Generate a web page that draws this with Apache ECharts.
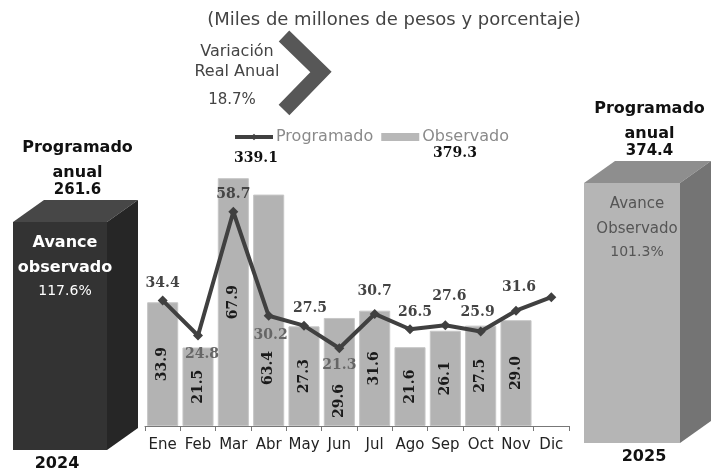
<!DOCTYPE html>
<html>
<head>
<meta charset="utf-8">
<script src="https://cdn.jsdelivr.net/npm/echarts@6/dist/echarts.min.js"></script>
<style>
html,body{margin:0;padding:0;background:#fff;}
#chart{width:722px;height:476px;}
</style>
</head>
<body>
<div id="chart"></div>
<script>
// ---- data ----
const months = ['Ene','Feb','Mar','Abr','May','Jun','Jul','Ago','Sep','Oct','Nov','Dic'];
const programado = [34.4, 24.8, 58.7, 30.2, 27.5, 21.3, 30.7, 26.5, 27.6, 25.9, 31.6, 35.3];
const observado = [33.9, 21.5, 67.9, 63.4, 27.3, 29.6, 31.6, 21.6, 26.1, 27.5, 29.0, null];
const boxYears = ['2024', '2025'];
const boxAnnual = [261.6, 374.4];
const boxAdvance = ['117.6%', '101.3%'];
const boxInnerLines = [['Avance', 'observado'], ['Avance', 'Observado']];
const totals = ['339.1', '379.3'];
const variacionLines = ['Variación', 'Real Anual'];
const variacionValue = '18.7%';
const titleText = '(Miles de millones de pesos y porcentaje)';
const seriesNames = ['Programado', 'Observado'];

// ---- styles ----
const SANS = 'DejaVu Sans';
const SERIF = 'DejaVu Serif';
// per-point label placement for the line [position, dx, dy, color]
const lineLabelPlace = [
  ['top', 0, 0, '#444'], ['bottom', 4, 2, '#666'], ['top', 0, 0, '#444'], ['bottom', 2, 3, '#666'],
  ['top', 6, 0, '#444'], ['bottom', 0, 0, '#666'], ['top', 0, -6, '#444'], ['top', 5, 0, '#444'],
  ['top', 4, -12, '#444'], ['top', -3, -2, '#444'], ['top', 3, -6, '#444'], null
];
const barLabelOverride = {3: 41, 5: 8}; // index -> distance from bottom
const boxStyles = [
  {front: '#333333', top: '#474747', side: '#262626', inner: '#ffffff', innerBold: true, innerSize: 16, yearDx: -3},
  {front: '#b5b5b5', top: '#8e8e8e', side: '#747474', inner: '#555555', innerBold: false, innerSize: 15, yearDx: 12}
];
const DX = 31, DY = 22;

const lineData = programado.map((v, i) => {
  const p = lineLabelPlace[i];
  if (!p) return {value: v, label: {show: false}};
  return {value: v, label: {show: true, position: p[0], offset: [p[1], p[2]], color: p[3]}};
});
const barData = observado.map((v, i) => {
  if (barLabelOverride[i] !== undefined) {
    return {value: v, label: {position: 'insideBottom', align: 'left', verticalAlign: 'middle', distance: barLabelOverride[i]}};
  }
  return {value: v};
});

function boxRenderer(idx) {
  return function (params, api) {
    const st = boxStyles[idx];
    const top = api.coord([api.value(0), api.value(1)]);
    const base = api.coord([api.value(0), 0]);
    const w = api.size([1, 0])[0];
    const x0 = top[0] - w / 2, x1 = top[0] + w / 2, y0 = top[1], y1 = base[1];
    const cx = (x0 + x1 + DX) / 2 + 2;
    const fc = x0 + w / 2;
    const innerFont = (st.innerBold ? 'bold ' : '') + st.innerSize + 'px ' + SANS;
    const children = [
      {type: 'polygon', shape: {points: [[x0, y0], [x0 + DX, y0 - DY], [x1 + DX, y0 - DY], [x1, y0]]}, style: {fill: st.top}},
      {type: 'polygon', shape: {points: [[x1, y0], [x1 + DX, y0 - DY], [x1 + DX, y1 - DY], [x1, y1]]}, style: {fill: st.side}},
      {type: 'rect', shape: {x: x0, y: y0, width: w, height: y1 - y0}, style: {fill: st.front}},
      {type: 'text', style: {text: 'Programado', x: cx, y: y0 - DY - 52, align: 'center', verticalAlign: 'middle', fill: '#111', font: 'bold 16px ' + SANS}},
      {type: 'text', style: {text: 'anual', x: cx, y: y0 - DY - 27, align: 'center', verticalAlign: 'middle', fill: '#111', font: 'bold 16px ' + SANS}},
      {type: 'text', style: {text: api.value(1).toFixed(1), x: cx, y: y0 - DY - 10, align: 'center', verticalAlign: 'middle', fill: '#111', font: 'bold 15px ' + SANS}},
      {type: 'text', style: {text: boxInnerLines[idx][0], x: fc + 5, y: y0 + 21, align: 'center', verticalAlign: 'middle', fill: st.inner, font: innerFont}},
      {type: 'text', style: {text: boxInnerLines[idx][1], x: fc + 5, y: y0 + 46, align: 'center', verticalAlign: 'middle', fill: st.inner, font: innerFont}},
      {type: 'text', style: {text: boxAdvance[idx], x: fc + 5, y: y0 + 69, align: 'center', verticalAlign: 'middle', fill: st.inner, font: '14px ' + SANS}},
      {type: 'text', style: {text: boxYears[idx], x: fc + st.yearDx, y: y1 + 14, align: 'center', verticalAlign: 'middle', fill: '#111', font: 'bold 16px ' + SANS}}
    ];
    return {type: 'group', children: children};
  };
}

const chart = echarts.init(document.getElementById('chart'));
const hiddenX = (gi, name) => ({gridIndex: gi, type: 'category', data: [name], show: false, boundaryGap: true});
const hiddenY = (gi) => ({gridIndex: gi, type: 'value', min: 0, max: 'dataMax', show: false, splitLine: {show: false}});

chart.setOption({
  animation: false,
  backgroundColor: '#ffffff',
  title: {
    text: titleText, left: 389, top: 6, textAlign: 'center',
    textStyle: {fontFamily: SANS, fontSize: 18, fontWeight: 'normal', color: '#444'}
  },
  legend: {
    data: [
      {name: seriesNames[0], lineStyle: {width: 4, color: '#404040'}, itemStyle: {color: '#404040'}},
      {name: seriesNames[1], icon: 'rect', itemStyle: {color: '#b8b8b8', borderWidth: 0}}
    ],
    left: 233, top: 129, itemWidth: 38, itemHeight: 8, itemGap: 8, padding: 0,
    textStyle: {fontFamily: SANS, fontSize: 16, color: '#8a8a8a', padding: [0, 0, 0, -2]}
  },
  grid: [
    {left: 145, right: 153, top: 134, bottom: 50},
    {left: 13, width: 94, top: 222, bottom: 26},
    {left: 584, width: 96, top: 183, bottom: 33}
  ],
  xAxis: [
    {
      gridIndex: 0, type: 'category', data: months, boundaryGap: true,
      axisLine: {lineStyle: {color: '#777', width: 1}},
      axisTick: {show: true, length: 5, lineStyle: {color: '#777'}},
      axisLabel: {interval: 0, margin: 12, fontFamily: SANS, fontSize: 15, color: '#222'}
    },
    hiddenX(1, boxYears[0]),
    hiddenX(2, boxYears[1])
  ],
  yAxis: [
    {gridIndex: 0, type: 'value', min: 0, max: 80, show: false, splitLine: {show: false}},
    hiddenY(1),
    hiddenY(2)
  ],
  series: [
    {
      name: seriesNames[1], type: 'bar', xAxisIndex: 0, yAxisIndex: 0,
      data: barData, barCategoryGap: '12%',
      itemStyle: {color: '#b3b3b3', borderColor: '#c6c6c6', borderWidth: 1},
      label: {
        show: true, position: 'inside', rotate: 90,
        formatter: p => p.value == null ? '' : p.value.toFixed(1),
        fontFamily: SERIF, fontWeight: 'bold', fontSize: 14, color: '#1a1a1a'
      },
      z: 2
    },
    {
      name: seriesNames[0], type: 'line', xAxisIndex: 0, yAxisIndex: 0,
      data: lineData, symbol: 'diamond', symbolSize: 10,
      lineStyle: {color: '#404040', width: 4},
      itemStyle: {color: '#404040'},
      label: {
        show: true, formatter: p => p.value.toFixed(1),
        fontFamily: SERIF, fontWeight: 'bold', fontSize: 14
      },
      z: 3
    },
    {
      type: 'custom', xAxisIndex: 1, yAxisIndex: 1, renderItem: boxRenderer(0),
      data: [[0, boxAnnual[0]]], encode: {x: 0, y: 1}, silent: true
    },
    {
      type: 'custom', xAxisIndex: 2, yAxisIndex: 2, renderItem: boxRenderer(1),
      data: [[0, boxAnnual[1]]], encode: {x: 0, y: 1}, silent: true
    }
  ],
  graphic: [
    {type: 'polyline', shape: {points: [[284, 36], [321, 72], [284, 110]]}, style: {stroke: '#575757', lineWidth: 15, fill: null, lineJoin: 'miter'}},
    {type: 'text', style: {text: variacionLines[0], x: 237, y: 52, align: 'center', verticalAlign: 'middle', fill: '#444', font: '16px ' + SANS}},
    {type: 'text', style: {text: variacionLines[1], x: 237, y: 72, align: 'center', verticalAlign: 'middle', fill: '#444', font: '16px ' + SANS}},
    {type: 'text', style: {text: variacionValue, x: 232, y: 100, align: 'center', verticalAlign: 'middle', fill: '#444', font: '15px ' + SANS}},
    {type: 'text', style: {text: totals[0], x: 256, y: 158, align: 'center', verticalAlign: 'middle', fill: '#111', font: 'bold 14px ' + SERIF}},
    {type: 'text', style: {text: totals[1], x: 455, y: 153, align: 'center', verticalAlign: 'middle', fill: '#111', font: 'bold 14px ' + SERIF}}
  ]
});
</script>
</body>
</html>
